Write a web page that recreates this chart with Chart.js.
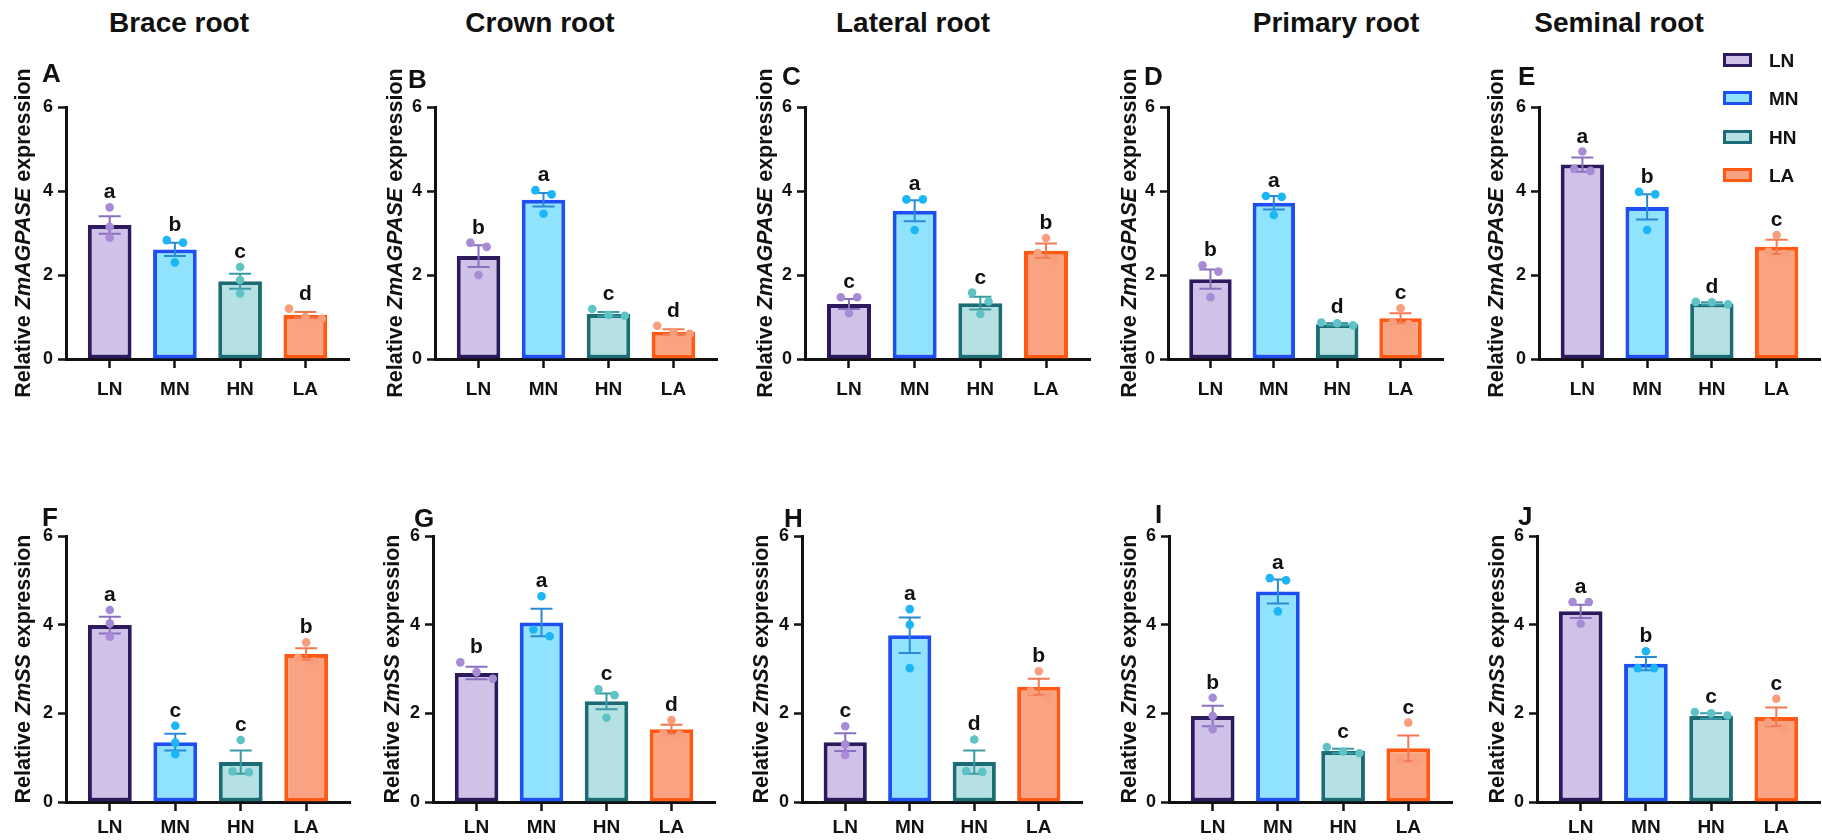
<!DOCTYPE html>
<html>
<head>
<meta charset="utf-8">
<script src="https://cdn.jsdelivr.net/npm/chart.js@4.4.0/dist/chart.umd.min.js"></script>
<style>
    html, body { margin: 0; padding: 0; background: #fff; }
    body {
        width: 1822px; height: 840px; position: relative; overflow: hidden;
        font-family: Arial, "Liberation Sans", Helvetica, sans-serif; color: #111;
    }
    canvas { position: absolute; }
    .txt { position: absolute; white-space: nowrap; font-weight: bold; }
    .col-title { font-size: 28px; line-height: 28px; transform: translateX(-50%); }
    .panel-tag { font-size: 26px; line-height: 26px; }
    .ytitle { font-size: 21.5px; line-height: 22px; transform: translate(-50%, -50%) rotate(-90deg); }
    .legend-box { position: absolute; box-sizing: border-box; width: 29px; height: 14px; border: 3px solid; }
    .legend-text { font-size: 19px; line-height: 19px; }
</style>
</head>
<body>
<script>
const groups = ["LN", "MN", "HN", "LA"];
const rootTypes = ["Brace root", "Crown root", "Lateral root", "Primary root", "Seminal root"];
const tagsAgpase = ["A", "B", "C", "D", "E"];
const tagsSs = ["F", "G", "H", "I", "J"];

// ZmAGPASE: mean, SEM, replicates, significance letters (per root type, groups LN/MN/HN/LA)
const agpaseMean = [
    [3.19, 2.61, 1.85, 1.05],
    [2.45, 3.79, 1.07, 0.65],
    [1.31, 3.53, 1.33, 2.58],
    [1.90, 3.72, 0.83, 0.97],
    [4.63, 3.62, 1.32, 2.67],
];
const agpaseSem = [
    [0.21, 0.16, 0.18, 0.07],
    [0.26, 0.16, 0.05, 0.06],
    [0.12, 0.25, 0.15, 0.17],
    [0.23, 0.16, 0.03, 0.12],
    [0.17, 0.30, 0.03, 0.17],
];
const agpaseReps = [
    [[3.61, 3.15, 2.89], [2.83, 2.77, 2.30], [2.19, 1.88, 1.56], [1.20, 1.00, 0.96]],
    [[2.77, 2.67, 2.00], [4.02, 3.92, 3.46], [1.19, 1.05, 1.03], [0.79, 0.64, 0.60]],
    [[1.47, 1.47, 1.09], [3.80, 3.80, 3.07], [1.58, 1.37, 1.07], [2.88, 2.52, 2.36]],
    [[2.23, 2.08, 1.47], [3.88, 3.86, 3.43], [0.87, 0.85, 0.80], [1.21, 0.87, 0.83]],
    [[4.94, 4.53, 4.48], [3.98, 3.92, 3.07], [1.36, 1.35, 1.30], [2.95, 2.55, 2.50]],
];
const agpaseLetters = [
    ["a", "b", "c", "d"],
    ["b", "a", "c", "d"],
    ["c", "a", "c", "b"],
    ["b", "a", "d", "c"],
    ["a", "b", "d", "c"],
];

// ZmSS
const ssMean = [
    [3.99, 1.35, 0.90, 3.34],
    [2.91, 4.05, 2.27, 1.64],
    [1.35, 3.76, 0.90, 2.60],
    [1.94, 4.75, 1.15, 1.21],
    [4.30, 3.12, 1.94, 1.92],
];
const ssSem = [
    [0.19, 0.19, 0.26, 0.13],
    [0.14, 0.31, 0.18, 0.10],
    [0.20, 0.40, 0.26, 0.18],
    [0.23, 0.27, 0.05, 0.29],
    [0.15, 0.15, 0.06, 0.21],
];
const ssReps = [
    [[4.33, 4.03, 3.73], [1.72, 1.34, 1.08], [1.40, 0.69, 0.67], [3.60, 3.25, 3.17]],
    [[3.15, 2.93, 2.78], [4.64, 3.89, 3.74], [2.54, 2.41, 1.90], [1.85, 1.55, 1.52]],
    [[1.71, 1.30, 1.06], [4.35, 4.00, 3.02], [1.41, 0.68, 0.70], [2.95, 2.50, 2.35]],
    [[2.35, 1.94, 1.64], [5.05, 5.00, 4.30], [1.24, 1.14, 1.10], [1.79, 0.95, 0.90]],
    [[4.51, 4.51, 4.02], [3.40, 3.02, 3.02], [2.03, 1.95, 2.00], [2.33, 1.80, 1.65]],
];
const ssLetters = [
    ["a", "c", "c", "b"],
    ["b", "a", "c", "d"],
    ["c", "a", "d", "b"],
    ["b", "a", "c", "c"],
    ["a", "b", "c", "c"],
];

const yTicks = [0, 2, 4, 6];

// styling per group
const fillColors = ["#CFC1E7", "#90E3FD", "#B6E1E2", "#F9A383"];
const edgeColors = ["#2C1A5C", "#1E4FF2", "#1C6C76", "#FF5914"];
const dotColors = ["#A88BD7", "#1CB6F6", "#5DC3C7", "#F89E7C"];
const barErrColors = ["#8B70BE", "#2A8AD6", "#3B9BA2", "#F27A52"];

const FONT = "Arial, 'Liberation Sans', Helvetica, sans-serif";

// x extents of each plot's axes on the page
const rows = [
    {
        axes: [[66, 349], [435, 717], [805, 1090], [1168, 1443], [1539, 1820]],
        top: 90, height: 320, padTop: 17, padBottom: 1, xAxisH: 50, tickPad: 10,
        titleCx: [23, 395, 765, 1129, 1496], titleCy: 233,
        tagPos: [[42, 82], [408, 88], [782, 85], [1144, 85], [1518, 85]],
        gene: "ZmAGPASE",
        mean: agpaseMean, sem: agpaseSem, reps: agpaseReps, letters: agpaseLetters, tags: tagsAgpase,
    },
    {
        axes: [[66, 350], [433, 715], [802, 1082], [1169, 1452], [1537, 1820]],
        top: 520, height: 320, padTop: 16, padBottom: 0, xAxisH: 38, tickPad: 5,
        titleCx: [23, 392, 761, 1129, 1497], titleCy: 669,
        tagPos: [[42, 526], [414, 527], [784, 527], [1155, 523], [1518, 525]],
        gene: "ZmSS",
        mean: ssMean, sem: ssSem, reps: ssReps, letters: ssLetters, tags: tagsSs,
    },
];

// spread replicate dots sideways when they would overlap
function spread(values, step) {
    const order = values.map((v, i) => i).sort((a, b) => values[b] - values[a]);
    const offs = new Array(values.length).fill(0);
    let k = 0;
    while (k < order.length) {
        let j = k + 1;
        while (j < order.length && values[order[j - 1]] - values[order[j]] < 0.22) j++;
        const n = j - k;
        for (let m = 0; m < n; m++) offs[order[k + m]] = (m - (n - 1) / 2) * step;
        k = j;
    }
    return offs;
}

function addText(cls, html, left, baseline, fs) {
    const d = document.createElement("div");
    d.className = "txt " + cls;
    d.innerHTML = html;
    d.style.left = left + "px";
    d.style.top = (baseline - 0.8465 * fs) + "px";
    document.body.appendChild(d);
    return d;
}

function createPanel(row, col) {
    const [axisL, axisR] = row.axes[col];
    const yAxisW = 56;
    const w = axisR - axisL + yAxisW + 6;
    const canvas = document.createElement("canvas");
    canvas.width = w;
    canvas.height = row.height;
    canvas.style.left = (axisL - yAxisW) + "px";
    canvas.style.top = row.top + "px";
    canvas.style.width = w + "px";
    canvas.style.height = row.height + "px";
    document.body.appendChild(canvas);

    const means = row.mean[col];
    const sems = row.sem[col];
    const reps = row.reps[col];
    const letters = row.letters[col];

    const dots = [];
    const dotFill = [];
    reps.forEach((vals, g) => {
        const offs = spread(vals, 0.25);
        vals.forEach((v, r) => {
            dots.push({ x: g + offs[r], y: v });
            dotFill.push(dotColors[g]);
        });
    });

    const errorBars = {
        id: "errorBars",
        afterDatasetDraw(chart, args) {
            if (args.index !== 0) return;
            const { ctx, scales: { x, y } } = chart;
            ctx.save();
            ctx.lineWidth = 2;
            means.forEach((m, g) => {
                const px = x.getPixelForValue(g);
                const hi = y.getPixelForValue(m + sems[g]);
                const lo = y.getPixelForValue(m - sems[g]);
                ctx.strokeStyle = barErrColors[g];
                ctx.beginPath();
                ctx.moveTo(px, hi); ctx.lineTo(px, lo);
                ctx.moveTo(px - 11, hi); ctx.lineTo(px + 11, hi);
                ctx.moveTo(px - 11, lo); ctx.lineTo(px + 11, lo);
                ctx.stroke();
            });
            ctx.restore();
        },
    };

    const sigLetters = {
        id: "sigLetters",
        afterDatasetsDraw(chart) {
            const { ctx, scales: { x, y } } = chart;
            ctx.save();
            ctx.font = "bold 21px " + FONT;
            ctx.fillStyle = "#111";
            ctx.textAlign = "center";
            ctx.textBaseline = "alphabetic";
            letters.forEach((t, g) => {
                const top = Math.max(means[g] + sems[g], ...reps[g]);
                ctx.fillText(t, x.getPixelForValue(g), y.getPixelForValue(top) - 9);
            });
            ctx.restore();
        },
    };

    new Chart(canvas.getContext("2d"), {
        type: "bar",
        data: {
            datasets: [
                {
                    type: "bar",
                    data: means.map((m, g) => ({ x: g, y: m })),
                    backgroundColor: fillColors,
                    borderColor: edgeColors,
                    borderWidth: 4,
                    borderSkipped: false,
                    categoryPercentage: 1,
                    barPercentage: 0.67,
                    order: 2,
                },
                {
                    type: "scatter",
                    data: dots,
                    pointRadius: 4.3,
                    pointBackgroundColor: dotFill,
                    pointBorderWidth: 0,
                    clip: false,
                    order: 1,
                },
            ],
        },
        options: {
            responsive: false,
            animation: false,
            devicePixelRatio: 1,
            events: [],
            layout: { padding: { top: row.padTop, bottom: row.padBottom, left: 0, right: 6 } },
            plugins: { legend: { display: false }, tooltip: { enabled: false } },
            scales: {
                x: {
                    type: "linear",
                    min: -0.67,
                    max: 3.67,
                    offset: false,
                    afterBuildTicks: (s) => { s.ticks = groups.map((g, i) => ({ value: i })); },
                    afterFit: (s) => { s.height = row.xAxisH; },
                    border: { display: true, color: "#111", width: 3 },
                    grid: {
                        offset: false, drawOnChartArea: false, drawTicks: true,
                        tickLength: 9, tickColor: "#111", tickWidth: 2.5,
                    },
                    ticks: {
                        autoSkip: false, maxRotation: 0, padding: row.tickPad, color: "#111",
                        font: { family: FONT, size: 19, weight: "bold" },
                        callback: (v) => groups[v],
                    },
                },
                y: {
                    min: 0,
                    max: 6,
                    afterBuildTicks: (s) => { s.ticks = yTicks.map((v) => ({ value: v })); },
                    afterFit: (s) => { s.width = yAxisW; },
                    border: { display: true, color: "#111", width: 3 },
                    grid: {
                        drawOnChartArea: false, drawTicks: true,
                        tickLength: 8, tickColor: "#111", tickWidth: 2.5,
                    },
                    ticks: {
                        padding: 5, color: "#111",
                        font: { family: FONT, size: 18, weight: "bold" },
                    },
                },
            },
        },
        plugins: [errorBars, sigLetters],
    });

    // y axis title, panel tag
    const yt = document.createElement("div");
    yt.className = "txt ytitle";
    yt.innerHTML = "Relative <i>" + row.gene + "</i> expression";
    yt.style.left = row.titleCx[col] + "px";
    yt.style.top = row.titleCy + "px";
    document.body.appendChild(yt);

    const [tx, tb] = row.tagPos[col];
    addText("panel-tag", row.tags[col], tx, tb, 26);
}

rows.forEach((row) => row.axes.forEach((a, col) => createPanel(row, col)));

// column headings
const headingCx = [179, 540, 913, 1336, 1619];
rootTypes.forEach((name, i) => addText("col-title", name, headingCx[i], 33, 28));

// legend
const legendRowsY = [60, 98, 137, 175];
groups.forEach((g, i) => {
    const box = document.createElement("div");
    box.className = "legend-box";
    box.style.left = "1723px";
    box.style.top = (legendRowsY[i] - 7) + "px";
    box.style.background = fillColors[i];
    box.style.borderColor = edgeColors[i];
    document.body.appendChild(box);
    addText("legend-text", g, 1769, legendRowsY[i] + 7, 19);
});
</script>
</body>
</html>
